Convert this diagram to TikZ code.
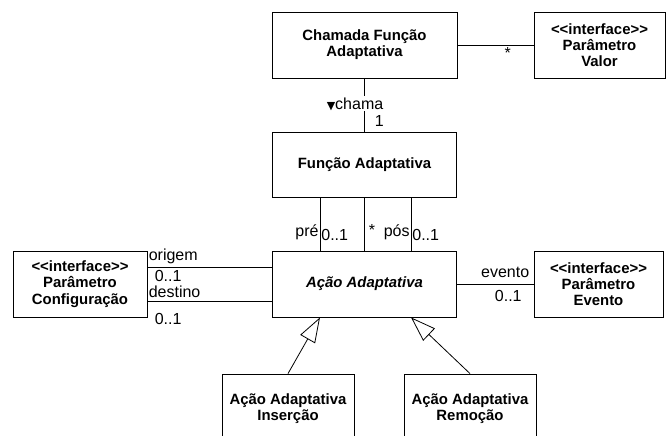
\documentclass[tikz,border=0pt]{standalone}
\usepackage{fontspec}
\setmainfont{Liberation Sans}
\newfontfamily\simbolo{DejaVu Sans}
\usetikzlibrary{arrows.meta, positioning}

\newcommand{\interf}{<\kern0pt<interface>\kern0pt>}

\tikzset{
  classe/.style={draw, line width=0.8pt, align=center, inner sep=0pt,
    font=\fontsize{14.9}{16.2}\selectfont\bfseries},
  rotulo/.style={font=\fontsize{16}{18}\selectfont, inner sep=1pt},
  assoc/.style={line width=0.8pt},
  heranca/.style={line width=0.8pt, -{Triangle[open, length=25pt, width=17pt]}},
}

\begin{document}
\begin{tikzpicture}[x=1pt, y=-1pt]
    \useasboundingbox (0,0) rectangle (667,436);
    \clip (0,0) rectangle (667,436);

    % --- Classes ---
    \node[classe, minimum width=185pt, minimum height=66pt] (chamada) at (364.5,45) {Chamada Função\\Adaptativa};
    \node[classe, minimum width=131pt, minimum height=66pt] (valor) at (599.5,45) {\interf\\Parâmetro\\Valor};
    \node[classe, minimum width=184pt, minimum height=65pt] (funcao) at (364.5,164.5) {Função Adaptativa};
    \node[classe, minimum width=184pt, minimum height=66pt] (acao) at (364.5,284) {\itshape Ação Adaptativa};
    \node[classe, minimum width=134pt, minimum height=66pt] (config) at (80,284) {\interf\\Parâmetro\\Configuração};
    \node[classe, minimum width=129pt, minimum height=66pt] (evento) at (598.5,284) {\interf\\Parâmetro\\Evento};
    \node[classe, minimum width=132pt, minimum height=70pt] (insercao) at (288,409) {Ação Adaptativa\\Inserção};
    \node[classe, minimum width=132pt, minimum height=70pt] (remocao) at (470,409) {Ação Adaptativa\\Remoção};

    % --- Associacoes ---
    \draw[assoc] (chamada) -- node[rotulo, pos=0.66, below=1pt] {*} (valor);
    \draw[assoc] (chamada) -- node[rotulo, pos=0.48, fill=white, xshift=-9.5pt] {{\simbolo\fontsize{11}{11}\selectfont ▼}chama}
        node[rotulo, pos=0.8, anchor=west, xshift=9pt] {1} (funcao);

    % pre, * e pos
    \draw[assoc] ([xshift=-44.5pt]funcao.south) -- node[rotulo, pos=0.83, anchor=south east] {pré}
        node[rotulo, pos=0.83, anchor=south west] {0..1} ([xshift=-44.5pt]acao.north);
    \draw[assoc] (funcao) -- node[rotulo, pos=0.74, anchor=south west, xshift=3pt] {*} (acao);
    \draw[assoc] ([xshift=46.5pt]funcao.south) -- node[rotulo, pos=0.83, anchor=south east] {pós}
        node[rotulo, pos=0.83, anchor=south west] {0..1} ([xshift=46.5pt]acao.north);

    % origem e destino
    \coordinate (origem) at ([yshift=17pt]config.east);
    \coordinate (destino) at ([yshift=-17pt]config.east);
    \draw[assoc] (origem) -- node[rotulo, pos=0, anchor=south west, yshift=2pt] {origem}
        node[rotulo, pos=0, anchor=north west, xshift=6pt, yshift=-1.5pt] {0..1} (origem -| acao.west);
    \draw[assoc] (destino) -- node[rotulo, pos=0, anchor=south west, yshift=1.5pt] {destino}
        node[rotulo, pos=0, anchor=north west, xshift=6pt, yshift=-11pt] {0..1} (destino -| acao.west);

    % evento
    \draw[assoc] (acao) -- node[rotulo, pos=1, anchor=south east, xshift=-3pt, yshift=5pt] {evento}
        node[rotulo, pos=0.67, anchor=north, yshift=-5pt] {0..1} (evento);

    % --- Heranca ---
    \draw[heranca] (insercao.north) -- ([xshift=-44.5pt]acao.south);
    \draw[heranca] (remocao.north) -- ([xshift=46.5pt]acao.south);
\end{tikzpicture}
\end{document}
